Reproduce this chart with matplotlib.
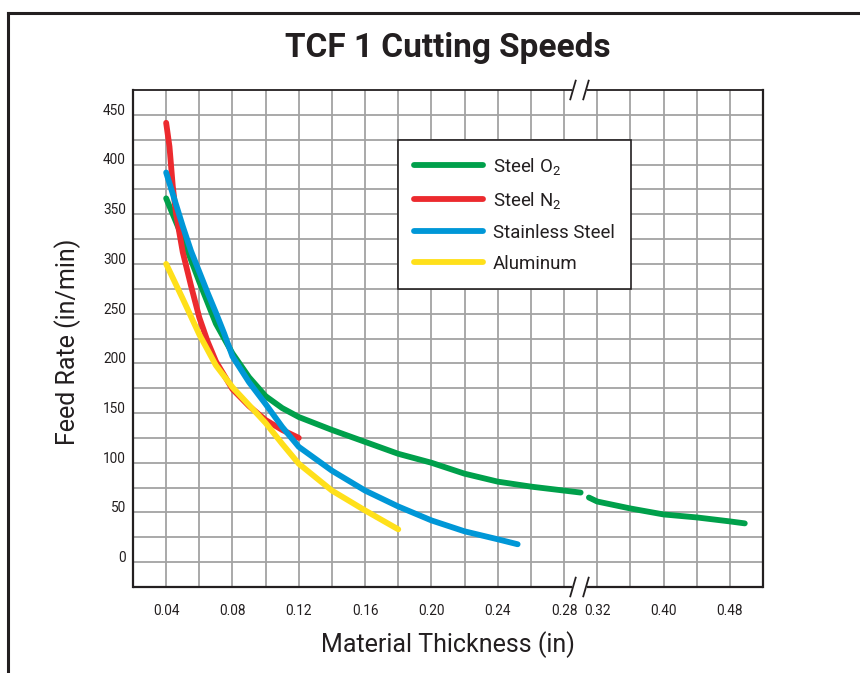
import numpy as np
import matplotlib
matplotlib.use('Agg')
import matplotlib.pyplot as plt
from matplotlib import font_manager, transforms
from matplotlib.lines import Line2D

# フォント選択 (使えるものだけ)
names = {f.name for f in font_manager.fontManager.ttflist}
body_font = [f for f in ['Roboto', 'DejaVu Sans'] if f in names]
title_font = [f for f in ['Liberation Sans Narrow', 'Roboto', 'DejaVu Sans'] if f in names]

plt.rcParams['font.family'] = body_font
plt.rcParams['mathtext.default'] = 'regular'

# データ
green_x_a = [0.04, 0.05, 0.06, 0.07, 0.08, 0.09, 0.10, 0.11, 0.12, 0.14, 0.16, 0.18,
             0.20, 0.22, 0.24, 0.26, 0.28, 0.30]
green_y_a = [366, 326, 282, 240, 210, 186, 167, 155, 146, 133, 121, 109,
             100, 89, 81, 76, 72, 70]
green_x_b = [0.31, 0.32, 0.36, 0.40, 0.44, 0.48, 0.498]
green_y_b = [65, 61, 54, 48, 45, 41, 39]

red_x = [0.040, 0.042, 0.044, 0.046, 0.050, 0.055, 0.060, 0.065, 0.070, 0.080, 0.090,
         0.100, 0.110, 0.120]
red_y = [442, 418, 378, 350, 312, 278, 246, 222, 202, 174, 157, 143, 133, 125]

blue_x = [0.040, 0.045, 0.050, 0.055, 0.060, 0.065, 0.070, 0.075, 0.080, 0.090,
          0.100, 0.110, 0.120, 0.140, 0.160, 0.180, 0.200, 0.220, 0.240, 0.252]
blue_y = [392, 365, 338, 313, 292, 271, 251, 230, 207, 181,
          159, 136, 116, 92, 72, 56, 42, 31, 23, 18]

yellow_x = [0.040, 0.050, 0.060, 0.070, 0.080, 0.090, 0.100, 0.110, 0.120,
            0.140, 0.160, 0.180]
yellow_y = [300, 265, 229, 198, 176, 158, 140, 119, 99, 72, 52, 33]

series_labels = [r'Steel O$_2$', r'Steel N$_2$', 'Stainless Steel', 'Aluminum']
colors = ['#00a04b', '#ec2a2e', '#0097d7', '#ffe01a']

x_major = [0.04, 0.08, 0.12, 0.16, 0.20, 0.24, 0.28, 0.32, 0.40, 0.48]
x_minor = [0.06, 0.10, 0.14, 0.18, 0.22, 0.26, 0.36, 0.44]
x_labels = ['0.04', '0.08', '0.12', '0.16', '0.20', '0.24', '0.28', '0.32', '0.40', '0.48']
y_major = list(range(0, 451, 50))
y_minor = list(range(25, 451, 50))


# 0.28 と 0.32 の間を詰めた軸
def fwd(x):
    x = np.asarray(x, dtype=float)
    return np.where(x <= 0.28, x, 0.28 + (x - 0.28) / 2)


def inv(u):
    u = np.asarray(u, dtype=float)
    return np.where(u <= 0.28, u, 0.28 + (u - 0.28) * 2)


fig = plt.figure(figsize=(8.6, 6.73), dpi=100)
ax = fig.add_axes([133 / 860, 1 - 587 / 673, 630 / 860, 497 / 673])
ax.set_xscale('function', functions=(fwd, inv))
ax.set_xlim(0.02, 0.52)
ax.set_ylim(-25, 475)

ink = '#231f20'
ax.set_xticks(x_major)
ax.set_xticklabels(x_labels)
ax.set_xticks(x_minor, minor=True)
ax.set_yticks(y_major)
ax.set_yticks(y_minor, minor=True)
ax.grid(True, which='both', color='#a3a3a3', lw=1.3)
ax.set_axisbelow(True)
ax.tick_params(which='both', length=0, colors=ink, labelsize=9.8)
ax.tick_params(axis='x', pad=12)
ax.tick_params(axis='y', pad=5)
for lbl in ax.get_yticklabels():
    lbl.set_transform(lbl.get_transform() +
                      transforms.ScaledTranslation(0, 4 / 72, fig.dpi_scale_trans))

# 線
lw = 4.2
style = dict(lw=lw, solid_capstyle='round', solid_joinstyle='round')
ax.plot(green_x_a, green_y_a, color=colors[0], label=series_labels[0], **style)
ax.plot(green_x_b, green_y_b, color=colors[0], **style)
ax.plot(red_x, red_y, color=colors[1], label=series_labels[1], **style)
ax.plot(blue_x, blue_y, color=colors[2], label=series_labels[2], **style)
ax.plot(yellow_x, yellow_y, color=colors[3], label=series_labels[3], **style)

# 枠 (上下は切れ目つき)
for s in ['top', 'bottom']:
    ax.spines[s].set_visible(False)
for s in ['left', 'right']:
    ax.spines[s].set_color(ink)
    ax.spines[s].set_linewidth(1.6)
gap_lo, gap_hi = 0.6963, 0.7202
for yy, lwid in [(0, 1.6), (1, 1.3)]:
    for x0, x1 in [(0, gap_lo), (gap_hi, 1)]:
        ax.add_line(Line2D([x0, x1], [yy, yy], transform=ax.transAxes, color=ink,
                           lw=lwid, clip_on=False, solid_capstyle='butt'))
    for xc in [0.6984, 0.7190]:
        ax.add_line(Line2D([xc - 0.0043, xc + 0.0043], [yy - 0.0188, yy + 0.0188],
                           transform=ax.transAxes, color=ink, lw=1.3, clip_on=False))

leg = ax.legend(loc='upper left', bbox_to_anchor=(0.4206, 0.8994), borderaxespad=0,
                fontsize=13.4, handlelength=3.7, handletextpad=0.55, labelspacing=0.7,
                borderpad=0.85, fancybox=False, framealpha=1, edgecolor=ink)
leg.get_frame().set_linewidth(1.2)
for t in leg.get_texts():
    t.set_color(ink)

fig.text(448 / 860, 1 - 48 / 673, 'TCF 1 Cutting Speeds', ha='center', va='center',
         fontsize=24, fontweight='bold', color=ink, family=title_font)
fig.text(68 / 860, 1 - 342 / 673, 'Feed Rate (in/min)', ha='center', va='center',
         rotation=90, fontsize=18, color=ink)
fig.text(448 / 860, 1 - 645 / 673, 'Material Thickness (in)', ha='center', va='center',
         fontsize=18, color=ink)

# 外枠 (左と上)
fig.add_artist(Line2D([8 / 860, 8 / 860], [0, 1 - 13 / 673], transform=fig.transFigure,
                      color=ink, lw=2.2, solid_capstyle='projecting'))
fig.add_artist(Line2D([8 / 860, 1], [1 - 13 / 673, 1 - 13 / 673], transform=fig.transFigure,
                      color=ink, lw=2.2, solid_capstyle='projecting'))

fig.savefig('out.png', dpi=100)
